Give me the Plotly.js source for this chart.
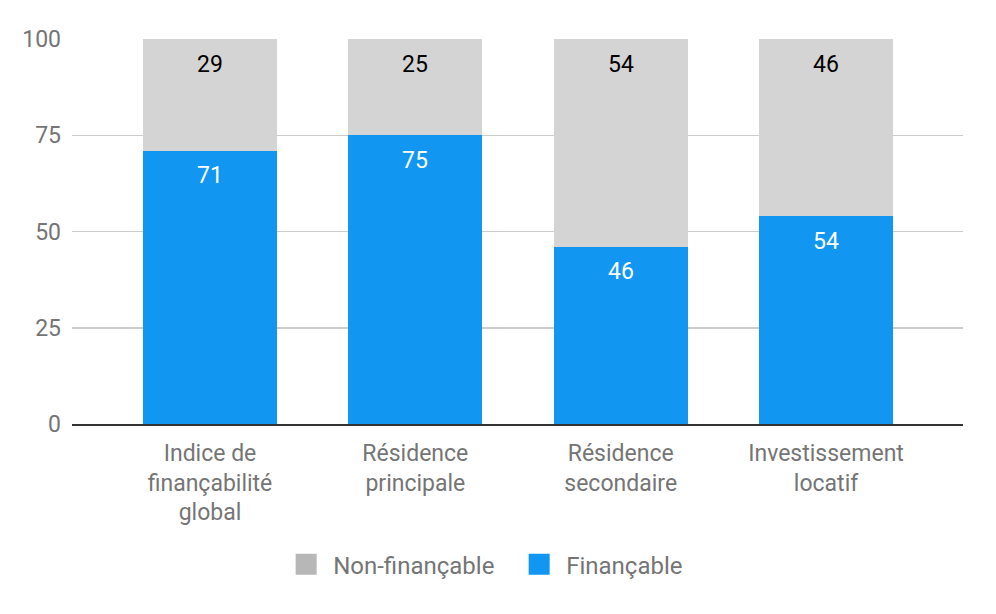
<!DOCTYPE html>
<html>
<head>
<meta charset="utf-8">
<script src="https://cdn.plot.ly/plotly-3.0.1.min.js"></script>
<style>
  html, body { margin: 0; padding: 0; background: #fff; }
  #chart { width: 996px; height: 614px; }
</style>
</head>
<body>
<div id="chart"></div>
<script>
    const categories = [
        'Indice de<br>finançabilité<br>global',
        'Résidence<br>principale',
        'Résidence<br>secondaire',
        'Investissement<br>locatif'
    ];
    const financable = [71, 75, 46, 54];
    const nonFinancable = [29, 25, 54, 46];

    const blue = '#1197f2';
    const grey = '#d5d4d4';
    const greyLegend = '#b7b7b7';
    const font = 'Roboto, "Open Sans", sans-serif';

    const xIdx = categories.map((c, i) => i);

    const data = [
        {
            type: 'bar',
            name: 'Finançable',
            x: xIdx,
            y: financable,
            width: 0.653,
            marker: {color: blue},
            showlegend: false,
            hoverinfo: 'none'
        },
        {
            type: 'bar',
            name: 'Non-finançable',
            x: xIdx,
            y: nonFinancable,
            width: 0.653,
            marker: {color: grey},
            showlegend: false,
            hoverinfo: 'none'
        },
        // legend swatches only (bigger squares than the bar default)
        {
            type: 'scatter', mode: 'markers', name: 'Finançable',
            x: [null], y: [null],
            marker: {symbol: 'square', size: 22, color: blue,
                     line: {color: blue, width: 5}},
            hoverinfo: 'none'
        },
        {
            type: 'scatter', mode: 'markers', name: 'Non-finançable',
            x: [null], y: [null],
            marker: {symbol: 'square', size: 22, color: greyLegend,
                     line: {color: greyLegend, width: 5}},
            hoverinfo: 'none'
        }
    ];

    // labels near the top of each segment
    const annotations = [];
    xIdx.forEach(i => {
        annotations.push({
            x: i, y: financable[i], xref: 'x', yref: 'y',
            text: String(financable[i]), showarrow: false,
            yanchor: 'middle', yshift: -25,
            font: {family: font, size: 23, color: '#ffffff'}
        });
        annotations.push({
            x: i, y: financable[i] + nonFinancable[i], xref: 'x', yref: 'y',
            text: String(nonFinancable[i]), showarrow: false,
            yanchor: 'middle', yshift: -25,
            font: {family: font, size: 23, color: '#000000'}
        });
    });

    const layout = {
        width: 996,
        height: 614,
        barmode: 'stack',
        paper_bgcolor: '#ffffff',
        plot_bgcolor: '#ffffff',
        margin: {l: 72, r: 33, t: 39, b: 190},
        font: {family: font, size: 23, color: '#757575'},
        showlegend: true,
        legend: {
            orientation: 'h',
            traceorder: 'reversed',
            x: 0.494, xanchor: 'center',
            y: -0.365, yanchor: 'middle',
            font: {family: font, size: 24, color: '#757575'},
            itemwidth: 44,
            entrywidth: 174
        },
        xaxis: {
            range: [-0.672, 3.667],
            tickmode: 'array',
            tickvals: xIdx,
            ticktext: categories,
            showgrid: false,
            showline: true,
            linecolor: '#333333',
            linewidth: 2,
            ticks: '',
            zeroline: false,
            fixedrange: true,
            ticklabelstandoff: 7,
            tickfont: {family: font, size: 23, color: '#757575'}
        },
        yaxis: {
            range: [0, 100],
            tickvals: [0, 25, 50, 75, 100],
            showgrid: true,
            gridcolor: '#cccccc',
            gridwidth: 1.5,
            zeroline: false,
            ticks: '',
            fixedrange: true,
            ticklabelstandoff: 10,
            tickfont: {family: font, size: 23, color: '#757575'}
        },
        annotations: annotations
    };

    Plotly.newPlot('chart', data, layout, {displayModeBar: false, staticPlot: true});
</script>
</body>
</html>
